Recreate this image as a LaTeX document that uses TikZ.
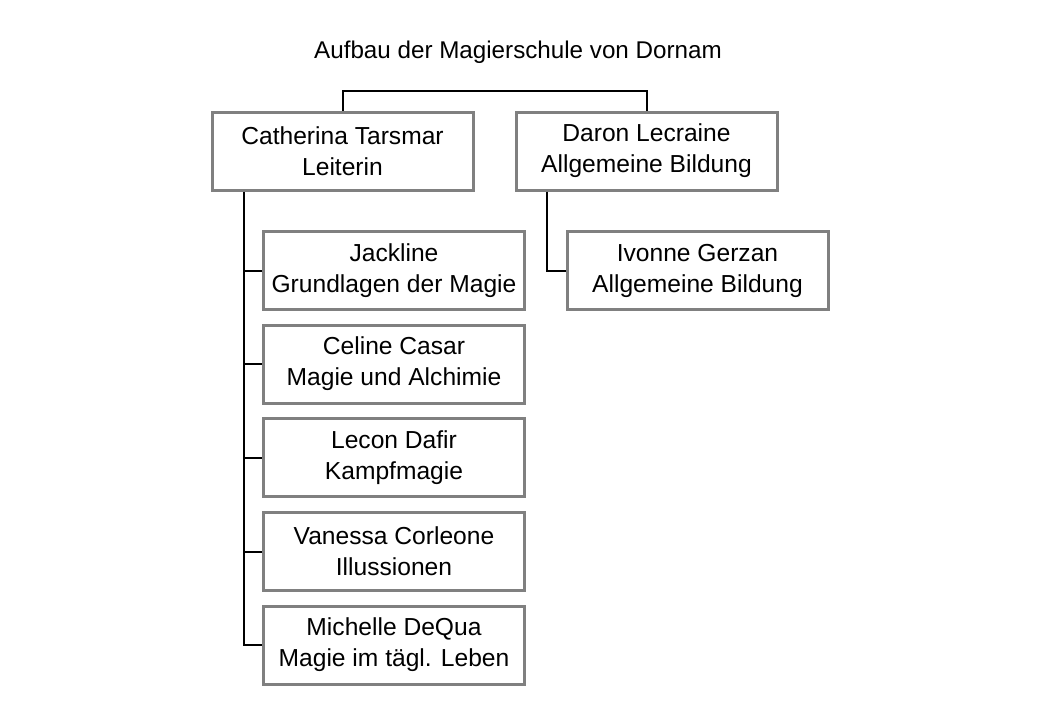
\documentclass[tikz,border=0pt]{standalone}
\usepackage{fontspec}
\setmainfont{Liberation Sans}
\begin{document}
\begin{tikzpicture}[x=1pt,y=-1pt,
  box/.style={draw=black!50, line width=3pt, fill=white, minimum width=261pt, minimum height=78pt, align=center, inner sep=0pt, font=\fontsize{24.6}{31}\selectfont},
  conn/.style={draw=black, line width=2pt}]
\useasboundingbox (0,0) rectangle (1040,720);
\node[font=\fontsize{24.2}{31}\selectfont] (title) at (518,52) {Aufbau der Magierschule von Dornam};
\node[box] (ct) at (342.5,151) {Catherina Tarsmar\\Leiterin};
\node[box] (dl) at (646.5,151) {Daron Lecraine\\Allgemeine Bildung};
\node[box] (j) at (394,270.5) {Jackline\\Grundlagen der Magie};
\node[box] (cc) at (394,364) {Celine Casar\\Magie und Alchimie};
\node[box] (ld) at (394,457.5) {Lecon Dafir\\Kampfmagie};
\node[box] (vc) at (394,551.5) {Vanessa Corleone\\Illussionen};
\node[box] (md) at (394,645) {Michelle DeQua\\Magie im tägl. Leben};
\node[box] (ig) at (697.5,270.5) {Ivonne Gerzan\\Allgemeine Bildung};
\coordinate (top) at (0,91);
\draw[conn] (ct.north) -- (ct.north |- top) -- (dl.north |- top) -- (dl.north);
\coordinate (lt) at (244,190);
\coordinate (rt) at (547,190);
\draw[conn] (lt |- ct.south) -- (lt |- md.west) -- (md.west);
\foreach \n in {j,cc,ld,vc} \draw[conn] (lt |- \n.west) -- (\n.west);
\draw[conn] (rt |- dl.south) -- (rt |- ig.west) -- (ig.west);
\end{tikzpicture}
\end{document}
